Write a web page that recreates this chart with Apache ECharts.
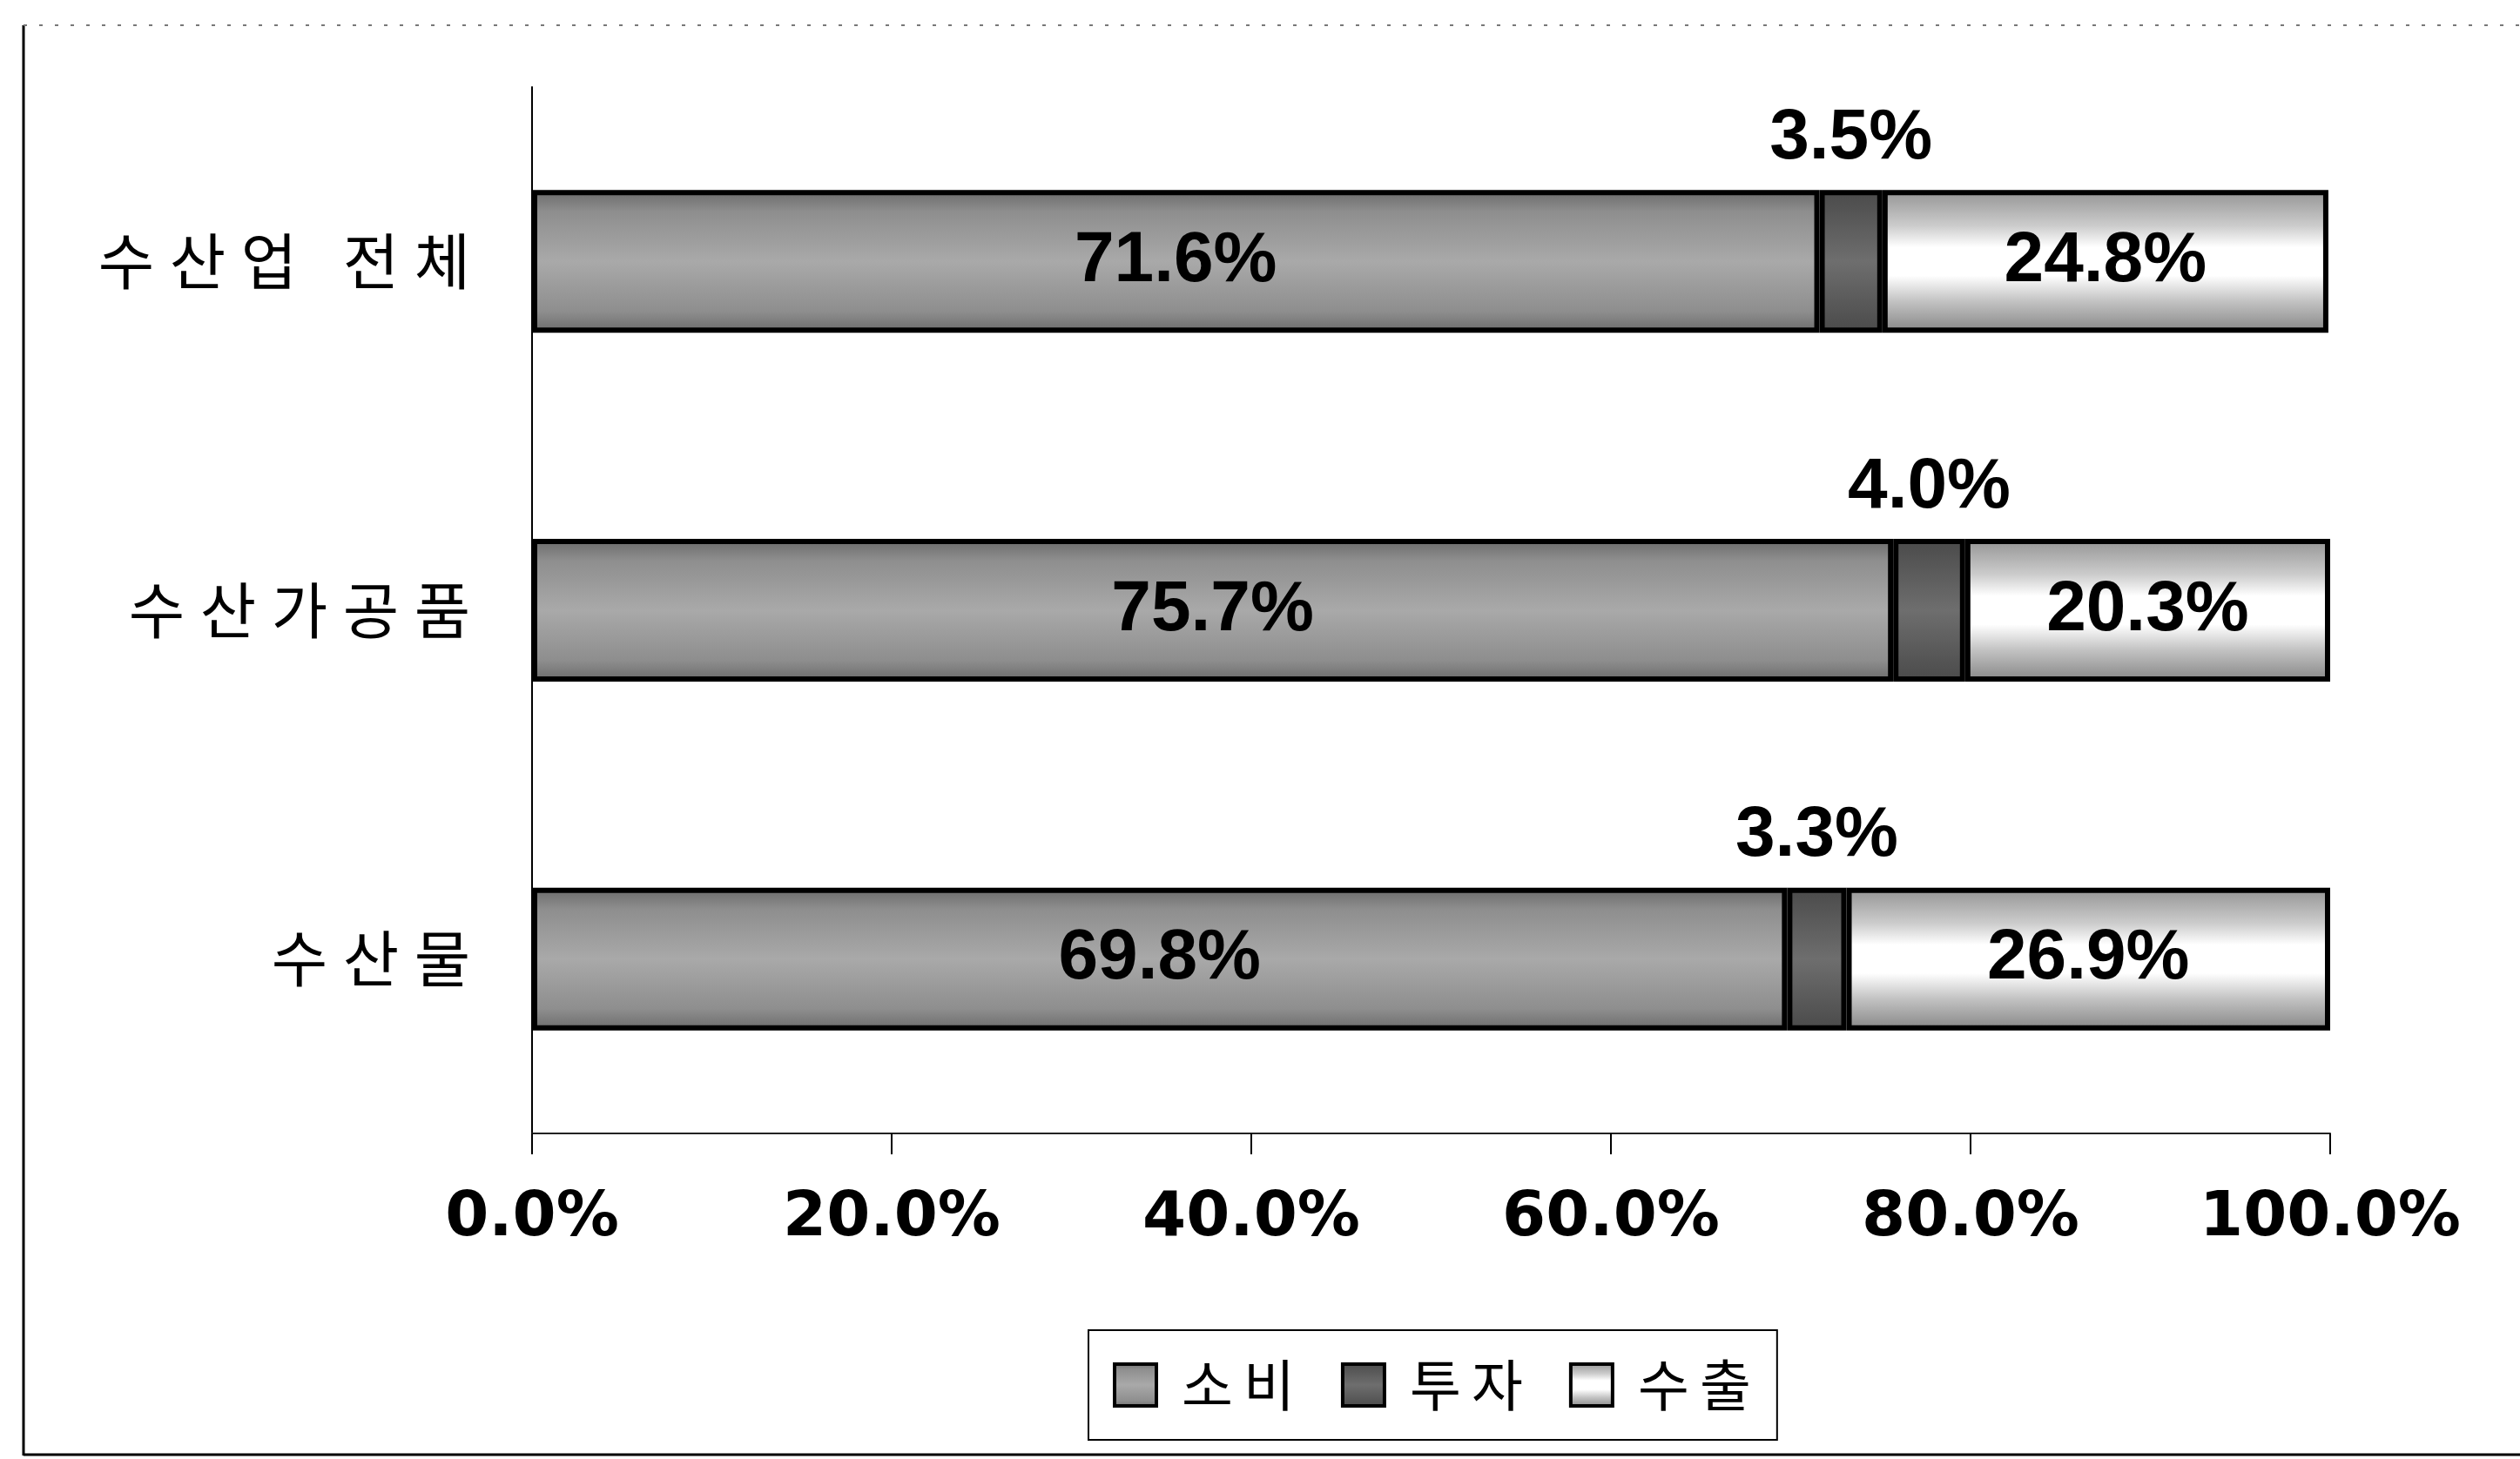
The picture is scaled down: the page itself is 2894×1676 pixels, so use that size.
<!DOCTYPE html>
<html>
<head>
<meta charset="utf-8">
<style>
    html, body { margin: 0; padding: 0; background: #fff; }
    #chart { width: 2894px; height: 1676px; }
</style>
<script src="https://cdn.jsdelivr.net/npm/echarts@6/dist/echarts.min.js"></script>
</head>
<body>
<div id="chart"></div>
<script>
    var categories = ['수산업 전체', '수산가공품', '수산물'];
    var seriesNames = ['소비', '투자', '수출'];
    var consumption = [71.6, 75.7, 69.8];
    var investment = [3.5, 4.0, 3.3];
    var exports = [24.8, 20.3, 26.9];
    var xTicks = [0, 20, 40, 60, 80, 100];

    var grad = function (stops) {
        return new echarts.graphic.LinearGradient(0, 0, 0, 1, stops.map(function (s) {
            return { offset: s[0], color: s[1] };
        }));
    };
    var fills = [
        grad([[0, '#6a6a6a'], [0.15, '#8e8e8e'], [0.5, '#a9a9a9'], [0.85, '#8e8e8e'], [1, '#6a6a6a']]),
        grad([[0, '#4a4a4a'], [0.5, '#6e6e6e'], [1, '#4a4a4a']]),
        grad([[0, '#939393'], [0.25, '#cccccc'], [0.4, '#ffffff'], [0.6, '#ffffff'], [0.78, '#c2c2c2'], [1, '#858585']])
    ];
    var labelPos = ['inside', 'top', 'inside'];
    var labelDist = [6, 18, 6];
    var values = [consumption, investment, exports];

    var pct = function (v) { return Number(v).toFixed(1) + '%'; };
    // 글자 간격을 넓히기 위해 한 글자씩 rich 토큰으로 나눔
    var spread = function (v) {
        return v.split('').map(function (ch) {
            return ch === ' ' ? '{s| }' : '{c|' + ch + '}';
        }).join('');
    };

    var chart = echarts.init(document.getElementById('chart'));
    var series = [];
    for (var i = 0; i < seriesNames.length; i++) {
        series.push({
            name: seriesNames[i],
            type: 'bar',
            stack: 'total',
            barWidth: 164,
            data: values[i],
            itemStyle: {
                color: fills[i],
                borderColor: '#000',
                borderWidth: 6
            },
            label: {
                show: true,
                position: labelPos[i],
                distance: labelDist[i],
                formatter: function (p) { return pct(p.value); },
                color: '#000',
                fontFamily: 'Liberation Sans',
                fontWeight: 'bold',
                fontSize: 82
            }
        });
    }

    chart.setOption({
        backgroundColor: '#fff',
        animation: false,
        grid: {
            left: 611,
            right: 218,
            top: 100,
            bottom: 374
        },
        legend: {
            left: 1250,
            top: 1528,
            padding: [31, 30, 31, 28],
            itemWidth: 48,
            itemHeight: 48,
            itemGap: 53,
            borderColor: '#000',
            borderWidth: 2,
            icon: 'rect',
            itemStyle: { borderWidth: 4, borderColor: '#000' },
            formatter: function (name) { return '{g| }' + spread(name); },
            textStyle: {
                color: '#000',
                rich: {
                    g: { width: 18, fontSize: 62 },
                    c: {
                        width: 71,
                        align: 'center',
                        fontFamily: 'Noto Sans CJK KR',
                        fontSize: 64,
                        color: '#000'
                    }
                }
            },
            data: seriesNames
        },
        xAxis: {
            type: 'value',
            min: 0,
            max: 100,
            interval: 20,
            axisLine: { show: true, lineStyle: { color: '#222', width: 2 } },
            axisTick: { show: true, length: 24, lineStyle: { color: '#000', width: 2 } },
            splitLine: { show: false },
            axisLabel: {
                margin: 62,
                color: '#000',
                fontFamily: 'DejaVu Sans',
                fontWeight: 'bold',
                fontSize: 72,
                formatter: function (v) { return xTicks.indexOf(v) >= 0 ? pct(v) : ''; }
            }
        },
        yAxis: {
            type: 'category',
            inverse: true,
            data: categories,
            axisLine: { show: true, lineStyle: { color: '#000', width: 2 } },
            axisTick: { show: false },
            axisLabel: {
                margin: 62,
                formatter: spread,
                rich: {
                    c: {
                        width: 82,
                        align: 'center',
                        fontFamily: 'Noto Sans CJK KR',
                        fontSize: 70,
                        color: '#000'
                    },
                    s: { width: 35, fontSize: 70 }
                }
            }
        },
        graphic: [
            {
                type: 'line',
                shape: { x1: 27, y1: 29, x2: 27, y2: 1672 },
                style: { stroke: '#000', lineWidth: 3 }
            },
            {
                type: 'line',
                shape: { x1: 27, y1: 1671, x2: 2894, y2: 1671 },
                style: { stroke: '#000', lineWidth: 3 }
            },
            {
                type: 'line',
                shape: { x1: 27, y1: 29, x2: 2894, y2: 29 },
                style: { stroke: '#777', lineWidth: 2, lineDash: [4, 14] }
            }
        ],
        series: series
    });

    window.addEventListener('resize', function () {
        chart.resize();
    });
</script>
</body>
</html>
